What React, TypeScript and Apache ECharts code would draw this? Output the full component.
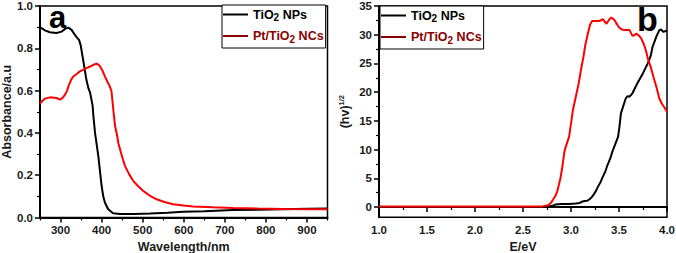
import React, { useEffect, useRef } from "react";
import * as echarts from "echarts";

// Panel a: UV-Vis absorbance
const wlTiO2 = [250, 262, 274, 290, 303, 312, 319, 327, 335, 341, 345, 349, 355, 363, 368, 372, 378, 380, 384, 392, 400, 404, 408, 416, 428, 445, 480, 518, 560, 599, 650, 720, 780, 842, 900, 950];
const absTiO2 = [0.9, 0.885, 0.876, 0.872, 0.879, 0.893, 0.898, 0.887, 0.863, 0.848, 0.84, 0.815, 0.746, 0.651, 0.61, 0.59, 0.53, 0.48, 0.4, 0.29, 0.15, 0.1, 0.071, 0.039, 0.02, 0.016, 0.017, 0.019, 0.023, 0.027, 0.03, 0.035, 0.037, 0.039, 0.041, 0.042];
const wlPt = [250, 256, 262, 274, 290, 299, 305, 311, 316, 320, 326, 331, 340, 347, 355, 363, 372, 380, 388, 393, 397, 402, 408, 414, 420, 424, 427, 430, 433, 437, 441, 445, 451, 457, 467, 477, 489, 501, 517, 534, 553, 574, 600, 623, 670, 720, 780, 842, 900, 950];
const absPt = [0.538, 0.552, 0.562, 0.568, 0.565, 0.557, 0.566, 0.581, 0.6, 0.625, 0.652, 0.667, 0.68, 0.691, 0.698, 0.706, 0.714, 0.722, 0.727, 0.722, 0.712, 0.695, 0.667, 0.643, 0.62, 0.597, 0.54, 0.48, 0.43, 0.395, 0.35, 0.322, 0.28, 0.243, 0.205, 0.173, 0.148, 0.126, 0.104, 0.086, 0.073, 0.063, 0.057, 0.052, 0.048, 0.045, 0.042, 0.04, 0.039, 0.039];

// Panel b: Tauc plot
const eTiO2 = [1.0, 2.6, 2.75, 2.81, 2.84, 2.9, 2.98, 3.05, 3.09, 3.12, 3.14, 3.17, 3.19, 3.21, 3.23, 3.26, 3.28, 3.31, 3.33, 3.36, 3.38, 3.41, 3.43, 3.46, 3.49, 3.505, 3.52, 3.545, 3.57, 3.59, 3.61, 3.64, 3.69, 3.75, 3.8, 3.83, 3.85, 3.89, 3.92, 3.94, 3.96, 3.98, 4.0];
const hvTiO2 = [0, 0, 0.05, 0.2, 0.45, 0.5, 0.52, 0.6, 0.7, 0.95, 1.05, 1.1, 1.3, 1.6, 2.0, 2.8, 3.5, 4.4, 5.2, 6.3, 7.3, 8.5, 9.6, 10.9, 12.2, 14.0, 16.3, 17.6, 18.9, 19.3, 19.2, 19.8, 21.5, 23.3, 25.0, 26.3, 27.9, 29.7, 30.8, 30.9, 30.5, 30.6, 30.7];
const ePt = [1.0, 2.34, 2.7, 2.76, 2.79, 2.81, 2.84, 2.86, 2.89, 2.91, 2.93, 2.94, 2.96, 2.98, 3.0, 3.02, 3.05, 3.08, 3.1, 3.13, 3.15, 3.18, 3.2, 3.22, 3.26, 3.3, 3.33, 3.35, 3.37, 3.4, 3.42, 3.45, 3.48, 3.5, 3.53, 3.56, 3.61, 3.64, 3.66, 3.68, 3.71, 3.73, 3.76, 3.78, 3.8, 3.83, 3.86, 3.89, 3.92, 3.95, 3.97, 4.0];
const hvPt = [0.1, 0.1, 0.1, 0.3, 0.7, 1.2, 2.0, 2.9, 5.0, 7.0, 9.5, 10.2, 11.2, 12.2, 14.5, 16.9, 19.2, 21.5, 23.5, 26.2, 28.3, 30.5, 31.8, 32.4, 32.4, 32.4, 32.7, 32.3, 31.9, 32.7, 33.0, 32.6, 31.8, 31.3, 30.9, 30.8, 30.8, 29.8, 29.9, 30.2, 29.8, 29.4, 28.3, 27.3, 25.9, 24.4, 22.6, 20.9, 18.9, 17.9, 17.4, 16.6];

const xTicksA = [300, 400, 500, 600, 700, 800, 900];
const xMinorA = [250, 350, 450, 550, 650, 750, 850, 950];
const yTicksB = [0, 5, 10, 15, 20, 25, 30, 35];
const yMinorB = [2.5, 7.5, 12.5, 17.5, 22.5, 27.5, 32.5];

const nameA = "TiO2 NPs";
const nameB = "Pt/TiO2 NCs";

const FONT = "'Liberation Sans', Arial, sans-serif";

const zip = (xs: number[], ys: number[]) => xs.map((x, i) => [x, ys[i]]);

export default function App() {
  const ref = useRef<HTMLDivElement>(null);
  useEffect(() => {
    if (!ref.current) return;
    const chart = echarts.init(ref.current, null, { renderer: "svg" });
    const labelStyle = { fontFamily: FONT, fontWeight: "bold", fontSize: 11.5, lineHeight: 11, color: "#1a1a1a" };
    const axisLine = { show: true, lineStyle: { color: "#000", width: 2 } };
    const nameStyle = { fontFamily: FONT, fontWeight: "bold", fontSize: 12.5, color: "#1a1a1a" };
    const legendCommon = (left: number, top: number) => ({
      left,
      top,
      orient: "vertical",
      icon: "rect",
      itemWidth: 25,
      itemHeight: 2,
      itemGap: 7,
      padding: [3, 2, 4, 1],
      borderColor: "#000",
      borderWidth: 1,
      backgroundColor: "#fff",
      formatter: (n: string) => n.replace("TiO2", "TiO{s|2}"),
      textStyle: {
        fontFamily: FONT,
        fontWeight: "bold",
        fontSize: 12.5,
        rich: { s: { fontFamily: FONT, fontWeight: "bold", fontSize: 10, padding: [6, 0, 0, 0] } },
      },
      data: [
        { name: nameA, textStyle: { color: "#000" }, itemStyle: { color: "#000" } },
        { name: nameB, textStyle: { color: "#8B0000" }, itemStyle: { color: "#8B0000" } },
      ],
    });
    const option: any = {
      animation: false,
      grid: [
        { left: 40, top: 6, width: 287.5, height: 211.5, show: true, borderColor: "#000", borderWidth: 1.5, outerBoundsMode: "none", containLabel: false },
        { left: 379, top: 6, width: 288, height: 211.3, show: true, borderColor: "#000", borderWidth: 1.5, outerBoundsMode: "none", containLabel: false },
      ],
      legend: [legendCommon(222, 5), legendCommon(380, 6)],
      xAxis: [
        {
          gridIndex: 0, type: "value", min: 250, max: 950,
          axisLine, splitLine: { show: false },
          axisTick: { customValues: xTicksA, length: 5, lineStyle: { width: 1.5, color: "#000" } },
          axisLabel: { ...labelStyle, customValues: xTicksA, margin: 7 },
          name: "Wavelength/nm", nameLocation: "middle", nameGap: 20, nameTextStyle: nameStyle,
        },
        {
          gridIndex: 0, type: "value", min: 250, max: 950, position: "bottom",
          axisLine: { show: false }, splitLine: { show: false },
          axisTick: { customValues: xMinorA, length: 3, lineStyle: { width: 1.2, color: "#000" } },
          axisLabel: { show: false },
        },
        {
          gridIndex: 1, type: "value", min: 1, max: 4, interval: 0.5,
          axisLine, splitLine: { show: false },
          axisTick: { length: 5, lineStyle: { width: 1.5, color: "#000" } },
          minorTick: { show: true, splitNumber: 2, length: 3, lineStyle: { width: 1.2, color: "#000" } },
          axisLabel: { ...labelStyle, margin: 7, formatter: (v: number) => v.toFixed(1) },
          name: "E/eV", nameLocation: "middle", nameGap: 20, nameTextStyle: nameStyle,
        },
      ],
      yAxis: [
        {
          gridIndex: 0, type: "value", min: 0, max: 1, interval: 0.2,
          axisLine, splitLine: { show: false },
          axisTick: { show: true, length: 5, lineStyle: { width: 1.5, color: "#000" } },
          minorTick: { show: true, splitNumber: 2, length: 3, lineStyle: { width: 1.2, color: "#000" } },
          axisLabel: { ...labelStyle, margin: 7, formatter: (v: number) => v.toFixed(1) },
          name: "Absorbance/a.u", nameLocation: "middle", nameGap: 27, nameTextStyle: nameStyle,
        },
        {
          gridIndex: 1, type: "value", min: -1.8, max: 35,
          axisLine, splitLine: { show: false },
          axisTick: { show: true, customValues: yTicksB, length: 5, lineStyle: { width: 1.5, color: "#000" } },
          axisLabel: { ...labelStyle, margin: 7, customValues: yTicksB },
          name: "(hv){sup|1/2}", nameLocation: "middle", nameGap: 26,
          nameTextStyle: { ...nameStyle, rich: { sup: { fontFamily: FONT, fontWeight: "bold", fontSize: 7.5, color: "#1a1a1a", padding: [0, 0, 8, 0] } } },
        },
        {
          gridIndex: 1, type: "value", min: -1.8, max: 35, position: "left",
          axisLine: { show: false }, splitLine: { show: false },
          axisTick: { show: true, customValues: yMinorB, length: 3, lineStyle: { width: 1.2, color: "#000" } },
          axisLabel: { show: false },
        },
      ],
      series: [
        { name: nameA, type: "line", xAxisIndex: 0, yAxisIndex: 0, data: zip(wlTiO2, absTiO2), symbol: "none", lineStyle: { color: "#000", width: 2 }, itemStyle: { color: "#000" } },
        { name: nameB, type: "line", xAxisIndex: 0, yAxisIndex: 0, data: zip(wlPt, absPt), symbol: "none", lineStyle: { color: "#ff0000", width: 2 }, itemStyle: { color: "#ff0000" } },
        { name: nameA, type: "line", xAxisIndex: 2, yAxisIndex: 1, data: zip(eTiO2, hvTiO2), symbol: "none", lineStyle: { color: "#000", width: 2 }, itemStyle: { color: "#000" } },
        { name: nameB, type: "line", xAxisIndex: 2, yAxisIndex: 1, data: zip(ePt, hvPt), symbol: "none", lineStyle: { color: "#ff0000", width: 2 }, itemStyle: { color: "#ff0000" } },
      ],
      graphic: [
        { type: "text", left: 49, top: 2, style: { text: "a", font: `bold 31px ${FONT}`, fill: "#000" } },
        { type: "text", left: 637, top: 2, style: { text: "b", font: `bold 34px ${FONT}`, fill: "#000" } },
      ],
    };
    chart.setOption(option);
    return () => chart.dispose();
  }, []);
  return <div ref={ref} style={{ width: 676, height: 253, position: "absolute", left: 0, top: 0 }} />;
}
